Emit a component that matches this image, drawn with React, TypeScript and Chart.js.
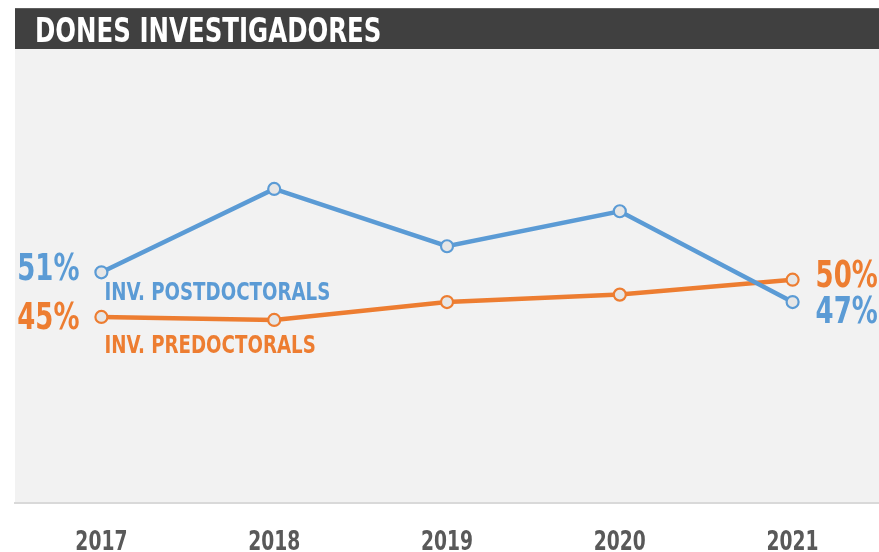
import React, { useEffect, useRef } from "react";
import { Chart, registerables } from "chart.js";

Chart.register(...registerables);

const title = "DONES INVESTIGADORES";
const years = ["2017", "2018", "2019", "2020", "2021"];
const postdoc = [51, 62.2, 54.5, 59.2, 47];
const predoc = [45, 44.6, 47.0, 48.0, 50];
const seriesNames = ["INV. POSTDOCTORALS", "INV. PREDOCTORALS"];
const seriesColors = ["#5b9bd5", "#ed7d31"];

const FONT = "'DejaVu Sans Condensed', 'DejaVu Sans', sans-serif";

// label offsets per dataset: [firstValueDy, lastValueDy, nameTopDy]
const labelOffsets = [
  [-1.5, 11, 9],
  [2, -2, 17],
];

function drawText(
  ctx: CanvasRenderingContext2D,
  text: string,
  x: number,
  y: number,
  font: string,
  color: string,
  align: CanvasTextAlign,
  baseline: CanvasTextBaseline,
  sx: number
) {
  ctx.save();
  ctx.translate(x, y);
  ctx.scale(sx, 1);
  ctx.font = font;
  ctx.fillStyle = color;
  ctx.textAlign = align;
  ctx.textBaseline = baseline;
  ctx.fillText(text, 0, 0);
  ctx.restore();
}

const decoPlugin = {
  id: "deco",
  beforeDraw(chart: any) {
    const { ctx, chartArea } = chart;
    const w = chartArea.right - chartArea.left;
    ctx.save();
    ctx.fillStyle = "#f2f2f2";
    ctx.fillRect(chartArea.left, chartArea.top, w, chartArea.bottom - chartArea.top);
    ctx.fillStyle = "#404040";
    ctx.fillRect(chartArea.left, 8, w, chartArea.top - 8);
    ctx.fillStyle = "#5e5e5e";
    ctx.fillRect(chartArea.left, 8, w, 1);
    ctx.restore();
    drawText(ctx, title, chartArea.left + 20, 42, `bold 34px ${FONT}`, "#ffffff", "left", "alphabetic", 0.8);
  },
  afterDraw(chart: any) {
    const { ctx } = chart;
    const xs = chart.scales.x;
    chart.data.labels.forEach((lab: string, i: number) => {
      drawText(ctx, lab, xs.getPixelForTick(i), 550, `bold 27px ${FONT}`, "#595959", "center", "alphabetic", 0.77);
    });
  },
  afterDatasetsDraw(chart: any) {
    const { ctx } = chart;
    chart.data.datasets.forEach((ds: any, i: number) => {
      const meta = chart.getDatasetMeta(i);
      const first = meta.data[0];
      const last = meta.data[meta.data.length - 1];
      const off = labelOffsets[i];
      const valFont = `bold 37px ${FONT}`;
      drawText(ctx, `${Math.round(ds.data[0])}%`, first.x - 22, first.y + off[0], valFont, ds.borderColor, "right", "middle", 0.78);
      drawText(ctx, `${Math.round(ds.data[ds.data.length - 1])}%`, last.x + 23, last.y + off[1], valFont, ds.borderColor, "left", "middle", 0.78);
      drawText(ctx, ds.label, first.x + 3, first.y + off[2], `bold 25px ${FONT}`, ds.borderColor, "left", "top", 0.81);
    });
  },
};

export default function App() {
  const ref = useRef<HTMLCanvasElement>(null);
  useEffect(() => {
    if (!ref.current) return;
    const chart = new Chart(ref.current, {
      type: "line",
      data: {
        labels: years,
        datasets: [postdoc, predoc].map((d, i) => ({
          label: seriesNames[i],
          data: d,
          borderColor: seriesColors[i],
          backgroundColor: seriesColors[i],
          borderWidth: 4.5,
          tension: 0,
          pointRadius: 6,
          pointBorderWidth: 2.2,
          pointBackgroundColor: "#e6e6e6",
          pointBorderColor: seriesColors[i],
        })),
      },
      options: {
        animation: false,
        responsive: false,
        layout: { autoPadding: false, padding: { left: 15, top: 49, right: 0, bottom: 0 } },
        plugins: { legend: { display: false }, tooltip: { enabled: false }, title: { display: false } },
        scales: {
          x: {
            offset: true,
            grid: { display: false, drawTicks: false },
            border: { display: true, color: "#d9d9d9", width: 2 },
            ticks: { display: false },
            afterFit: (scale: any) => {
              scale.height = 49;
              scale.paddingLeft = 0;
              scale.paddingRight = 0;
            },
          },
          y: { display: false, min: 20, max: 81 },
        },
      },
      plugins: [decoPlugin],
    });
    return () => chart.destroy();
  }, []);
  return (
    <canvas
      ref={ref}
      width={879}
      height={552}
      style={{ position: "fixed", left: 0, top: 0, display: "block", width: 879, height: 552 }}
    />
  );
}
